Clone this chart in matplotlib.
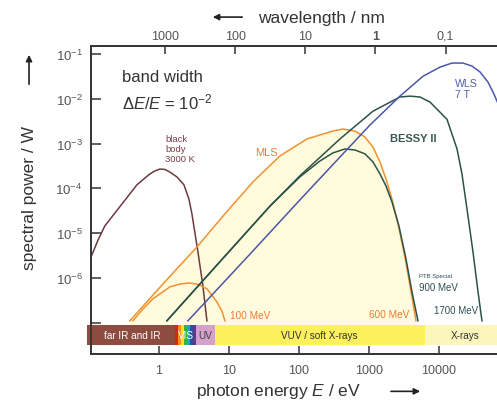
"""
Spectral power of the PTB synchrotron radiation sources (MLS, BESSY II, WLS)
compared with a 3000 K black body, bandwidth dE/E = 1e-2.
"""

import numpy as np
import matplotlib
matplotlib.use('Agg')
import matplotlib.pyplot as plt

# photon energy in eV / spectral power in W
bb_energy = [0.107, 0.135, 0.169, 0.277, 0.485, 0.743, 0.877, 1.03, 1.22, 1.44, 1.81, 2.28, 2.68, 2.96, 3.61, 4.25, 4.85]
bb_power = [2.9e-6, 7.0e-6, 1.45e-5, 3.9e-5, 1.2e-4, 2.1e-4, 2.45e-4, 2.7e-4, 2.65e-4, 2.3e-4, 1.8e-4, 1.2e-4, 5.8e-5, 2.7e-5, 3.8e-6, 6.6e-7, 1.1e-7]

mls600_energy = [0.385, 1.14, 3.49, 8.77, 22.0, 53.5, 130, 306, 425, 631, 877, 1140, 1436, 1750, 2130, 2600, 3270, 3980, 4690]
mls600_power = [1.1e-7, 7.3e-7, 4.9e-6, 2.7e-5, 1.39e-4, 5.3e-4, 1.27e-3, 1.91e-3, 2.12e-3, 1.91e-3, 1.40e-3, 8.4e-4, 3.9e-4, 1.62e-4, 5.8e-5, 1.6e-5, 2.9e-6, 5.1e-7, 1.1e-7]

mls100_energy = [0.425, 0.59, 0.82, 1.44, 2.0, 2.77, 3.7, 4.85, 6.74, 7.94, 8.77]
mls100_power = [1.1e-7, 2.0e-7, 3.4e-7, 6.3e-7, 7.3e-7, 7.7e-7, 7.1e-7, 5.7e-7, 2.9e-7, 1.8e-7, 1.1e-7]

bessy1700_energy = [1.30, 7.44, 38.5, 103, 385, 1140, 2770, 3850, 5350, 7430, 13000, 18100, 21300, 25100, 30600, 36100, 41100]
bessy1700_power = [1.1e-7, 2.3e-6, 4.0e-5, 1.9e-4, 1.27e-3, 5.3e-3, 1.10e-2, 1.15e-2, 1.10e-2, 8.5e-3, 3.5e-3, 7.6e-4, 2.1e-4, 3.5e-5, 3.8e-6, 4.9e-7, 1.1e-7]

bessy900_energy = [1.30, 7.44, 38.5, 103, 200, 306, 454, 631, 877, 1140, 1436, 1750, 2130, 2680, 3380, 4110, 5010]
bessy900_power = [1.1e-7, 2.3e-6, 4.0e-5, 1.8e-4, 4.1e-4, 6.2e-4, 7.6e-4, 7.2e-4, 5.9e-4, 3.9e-4, 2.1e-4, 1.13e-4, 5.0e-5, 1.45e-5, 2.65e-6, 4.9e-7, 1.1e-7]

wls_energy = [2.6, 20, 103, 385, 1033, 2770, 5910, 10300, 15300, 22000, 29600, 38500, 50100, 59100, 67400, 79400]
wls_power = [1.1e-7, 3.4e-6, 5.5e-5, 5.0e-4, 2.6e-3, 1.15e-2, 3.2e-2, 5.1e-2, 6.3e-2, 6.3e-2, 5.4e-2, 4.0e-2, 2.37e-2, 1.42e-2, 8.9e-3, 4.6e-3]

# spectral ranges shown as a colour bar along the bottom (eV)
band_edges = [0.094, 1.68, 3.35, 6.3, 6300, 1.0e5]
band_names = ['far IR and IR', 'VIS', 'UV', 'VUV / soft X-rays', 'X-rays']
band_text_pos = [0.42, 2.4, 4.55, 195, 24000]
band_colors = ['#8e4b40', 'none', '#d6a0cc', '#fcf05c', '#fdf6bc']
band_text_colors = ['white', 'white', '#444444', '#333333', '#333333']
vis_colors = ['#d9241c', '#f5901e', '#ffe31a', '#3bb04a', '#20a5c5', '#2e4fa0', '#5a3a8c']

energy_ticks = [1, 10, 100, 1000, 10000]
wavelength_ticks = [1000, 100, 10, 1, 0.1]
wavelength_labels = ['1000', '100', '10', '1', '0,1']
power_ticks = [1e-7, 1e-6, 1e-5, 1e-4, 1e-3, 1e-2, 1e-1]

HC = 1239.84  # eV nm


def main() -> None:
    plt.rcParams['font.family'] = ['Liberation Sans', 'DejaVu Sans']
    plt.rcParams['mathtext.fontset'] = 'custom'
    plt.rcParams['mathtext.rm'] = 'Liberation Sans'
    plt.rcParams['mathtext.it'] = 'Liberation Sans:italic'
    plt.rcParams['mathtext.bf'] = 'Liberation Sans:bold'

    fig = plt.figure(figsize=(4.97, 4.02), dpi=100)
    ax = fig.add_axes([0.183, 0.117, 0.817, 0.766])
    ax.set_xscale('log')
    ax.set_yscale('log')
    ax.set_xlim(0.107, 67400)
    ax.set_ylim(10 ** -7.70, 10 ** -0.82)

    orange = '#f2912f'
    teal = '#2c5249'
    blue = '#4a57a8'
    brown = '#6d3a3f'
    lw = 1.1

    lo, hi = 10 ** -7.50, 10 ** -7.05

    # shaded area under the MLS 600 MeV spectrum
    ax.fill_between(mls600_energy, mls600_power, hi, color='#fffbdc', lw=0, zorder=1)

    ax.plot(bb_energy, bb_power, color=brown, lw=lw, zorder=2)
    ax.plot(mls100_energy, mls100_power, color=orange, lw=lw, zorder=2)
    ax.plot(mls600_energy, mls600_power, color=orange, lw=lw, zorder=2)
    ax.plot(bessy900_energy, bessy900_power, color=teal, lw=lw, zorder=3)
    ax.plot(bessy1700_energy, bessy1700_power, color=teal, lw=lw, zorder=3)
    ax.plot(wls_energy, wls_power, color=blue, lw=lw, zorder=3)

    # spectral range bar
    for i, name in enumerate(band_names):
        e0, e1 = band_edges[i], band_edges[i + 1]
        if name == 'VIS':
            edges = np.logspace(np.log10(e0), np.log10(e1), len(vis_colors) + 1)
            for k, c in enumerate(vis_colors):
                p = ax.fill_between([edges[k], edges[k + 1]], lo, hi, color=c, lw=0, zorder=4)
                p.set_clip_on(False)
        else:
            p = ax.fill_between([e0, e1], lo, hi, color=band_colors[i], lw=0, zorder=4)
            p.set_clip_on(False)
        ax.text(band_text_pos[i], np.sqrt(lo * hi), name, ha='center', va='center',
                fontsize=7.2, color=band_text_colors[i], zorder=5)

    # annotations
    ax.text(0.296, 10 ** -1.49, 'band width', fontsize=12, color='#333333', va='center')
    ax.text(0.296, 10 ** -2.05, r'$\Delta E/E$ = 10$^{-2}$', fontsize=12, color='#333333', va='center')
    ax.text(1.22, 10 ** -2.78, 'black\nbody\n3000 K', fontsize=6.8, color='#7a4048',
            va='top', linespacing=1.15)
    ax.text(23.5, 10 ** -3.19, 'MLS', fontsize=8, color='#f07a3a', va='center')
    ax.text(1995, 10 ** -2.875, 'BESSY II', fontsize=8, color='#3a5852', va='center', fontweight='bold')
    ax.text(16900, 10 ** -1.53, 'WLS\n7 T', fontsize=7.6, color='#5060b0', va='top', linespacing=1.1)
    ax.text(5160, 10 ** -5.955, 'PTB Special', fontsize=4.3, color='#2f4f55', va='center')
    ax.text(5160, 10 ** -6.2, '900 MeV', fontsize=7, color='#2f4f55', va='center')
    ax.text(8500, 10 ** -6.71, '1700 MeV', fontsize=7, color='#2f4f55', va='center')
    ax.text(1000, 10 ** -6.80, '600 MeV', fontsize=7.2, color='#f07a3a', va='center')
    ax.text(10.3, 10 ** -6.83, '100 MeV', fontsize=7.2, color='#f07a3a', va='center')

    # axes styling
    spine_c = '#333333'
    tick_c = '#555555'
    ax.set_xticks(energy_ticks)
    ax.set_xticklabels([str(t) for t in energy_ticks])
    ax.set_yticks(power_ticks)
    ylabels = []
    for p in power_ticks:
        ex = int(round(np.log10(p)))
        ylabels.append('' if ex == -7 else r'$10^{%d}$' % ex)
    ax.set_yticklabels(ylabels)
    ax.minorticks_off()
    ax.tick_params(axis='x', direction='in', length=6, width=1.1, color=spine_c,
                   labelsize=9, labelcolor=tick_c, pad=7, top=False)
    ax.tick_params(axis='y', direction='in', length=7, width=1.1, color=spine_c,
                   labelsize=9.5, labelcolor=tick_c, pad=6, right=False)
    for side in ['left', 'bottom', 'top']:
        ax.spines[side].set_color(spine_c)
        ax.spines[side].set_linewidth(1.2)
    ax.spines['right'].set_visible(False)

    # wavelength axis on top
    ax2 = ax.twiny()
    ax2.set_xscale('log')
    ax2.set_xlim(ax.get_xlim())
    ax2.set_xticks([HC / w for w in wavelength_ticks])
    ax2.set_xticklabels(wavelength_labels)
    ax2.minorticks_off()
    ax2.tick_params(axis='x', direction='in', length=6, width=1.1, color=spine_c,
                    labelsize=9, labelcolor=tick_c, pad=3)
    for lab in ax2.get_xticklabels():
        if lab.get_text() == '1':
            lab.set_fontweight('bold')
    for side in ['left', 'bottom', 'top']:
        ax2.spines[side].set_color(spine_c)
        ax2.spines[side].set_linewidth(1.2)
    ax2.spines['right'].set_visible(False)

    # axis titles with arrows
    fig.text(0.060, 0.507, 'spectral power / W', rotation=90, ha='center', va='center',
             fontsize=12.5, color='#333333')
    fig.text(0.646, 0.955, 'wavelength / nm', ha='center', va='center', fontsize=12.5, color='#333333')
    fig.text(0.561, 0.027, r'photon energy $E$ / eV', ha='center', va='center',
             fontsize=12.5, color='#333333')
    arrow = dict(arrowstyle='-|>', color='#222222', lw=1.2, mutation_scale=9)
    fig.add_artist(matplotlib.patches.FancyArrowPatch((0.0584, 0.781), (0.0584, 0.868),
                   transform=fig.transFigure, **arrow))
    fig.add_artist(matplotlib.patches.FancyArrowPatch((0.493, 0.955), (0.4225, 0.955),
                   transform=fig.transFigure, **arrow))
    fig.add_artist(matplotlib.patches.FancyArrowPatch((0.781, 0.024), (0.851, 0.024),
                   transform=fig.transFigure, **arrow))

    fig.savefig('out.png', dpi=100)


if __name__ == "__main__":
    main()
